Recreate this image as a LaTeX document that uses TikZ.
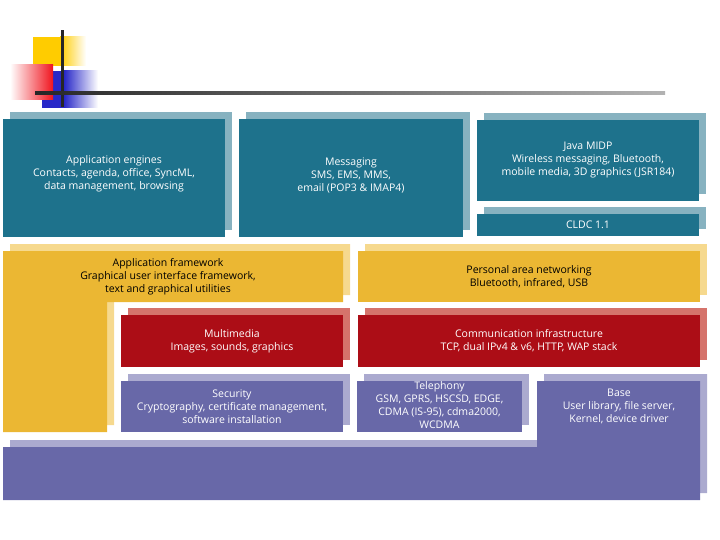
\documentclass[tikz,border=0pt]{standalone}
\usepackage{fontspec}
\setmainfont{Open Sans}
\usetikzlibrary{shadows}
\definecolor{teal1}{RGB}{30,114,140}
\definecolor{teal2}{RGB}{135,178,192}
\definecolor{yel1}{RGB}{235,183,51}
\definecolor{yel2}{RGB}{246,217,142}
\definecolor{red1}{RGB}{172,13,22}
\definecolor{red2}{RGB}{213,115,107}
\definecolor{pur1}{RGB}{104,104,168}
\definecolor{pur2}{RGB}{171,170,207}
\definecolor{logoyel}{RGB}{255,204,0}
\definecolor{logored}{RGB}{240,20,30}
\definecolor{logoblue}{RGB}{40,40,200}
\tikzset{
  lay/.style 2 args={rectangle, inner sep=0pt, fill=#1, draw=none, align=center,
    drop shadow={shadow xshift=7pt, shadow yshift=7pt, fill=#2, opacity=1}},
  lbl/.style={align=center, inner sep=0pt, font=\fontsize{10.5}{13}\selectfont},
  wlbl/.style={lbl, text=white},
  blbl/.style={lbl, text=black},
}
\begin{document}
\begin{tikzpicture}[x=1pt,y=-1pt]
\useasboundingbox (0,0) rectangle (720,540);
% logo
\fill[logoyel] (33,37) rectangle (60,66);
\shade[left color=logoyel, right color=white] (60,37) rectangle (86,66);
\fill[logoblue] (42,71) rectangle (64,108);
\shade[left color=logoblue, right color=white] (64,71) rectangle (98,108);
\shade[left color=white, right color=logored] (10,65) rectangle (53,100);
\fill[black!85] (61,30) rectangle (63.5,107);
\shade[left color=black!85, right color=black!30] (35,92) rectangle (665,94.5);
% L-shaped application framework
\fill[yel2] (10,244) -- (350,244) -- (350,295) -- (114,295) -- (114,425) -- (10,425) -- cycle;
\fill[yel1] (3,251) -- (343,251) -- (343,302) -- (107,302) -- (107,432) -- (3,432) -- cycle;
\node[blbl] (appf) at (168,277) {Application framework\\Graphical user interface framework,\\text and graphical utilities};
% L-shaped base
\fill[pur2] (10,440) -- (544,440) -- (544,374) -- (707,374) -- (707,493) -- (10,493) -- cycle;
\fill[pur1] (3,447) -- (537,447) -- (537,381) -- (700,381) -- (700,500) -- (3,500) -- cycle;
\node[wlbl] (base) at (619,406) {Base\\User library, file server,\\Kernel, device driver};
% boxes
\node[lay={teal1}{teal2}, minimum width=222, minimum height=118] (engb) at (114,178) {};
\node[wlbl] (eng) at (114,174) {Application engines\\Contacts, agenda, office, SyncML,\\data management, browsing};
\node[lay={teal1}{teal2}, minimum width=224, minimum height=118] (msgb) at (351,178) {};
\node[wlbl] (msg) at (351,175) {Messaging\\SMS, EMS, MMS,\\email (POP3 \& IMAP4)};
\node[lay={teal1}{teal2}, minimum width=222, minimum height=81, wlbl] (java) at (588,160.5) {Java MIDP\\Wireless messaging, Bluetooth,\\mobile media, 3D graphics (JSR184)};
\node[lay={teal1}{teal2}, minimum width=222, minimum height=22, wlbl] (cldc) at (588,225) {CLDC 1.1};
\node[lay={yel1}{yel2}, minimum width=342, minimum height=51, blbl] (pan) at (529,276.5) {Personal area networking\\Bluetooth, infrared, USB};
\node[lay={red1}{red2}, minimum width=222, minimum height=52, wlbl] (mm) at (232,341) {Multimedia\\Images, sounds, graphics};
\node[lay={red1}{red2}, minimum width=342, minimum height=52, wlbl] (comm) at (529,341) {Communication infrastructure\\TCP, dual IPv4 \& v6, HTTP, WAP stack};
\node[lay={pur1}{pur2}, minimum width=222, minimum height=51, wlbl] (sec) at (232,406.5) {Security\\Cryptography, certificate management,\\software installation};
\node[lay={pur1}{pur2}, minimum width=165, minimum height=51] (telb) at (439.5,406.5) {};
\node[wlbl] (tel) at (439.5,405.5) {Telephony\\GSM, GPRS, HSCSD, EDGE,\\CDMA (IS-95), cdma2000,\\WCDMA};
\end{tikzpicture}
\end{document}
